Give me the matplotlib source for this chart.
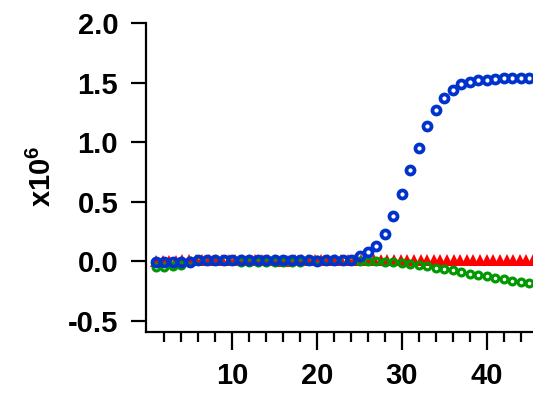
import numpy as np
import matplotlib
matplotlib.use('Agg')
import matplotlib.pyplot as plt
from matplotlib.ticker import FixedLocator

# data (y in units of 1e6)
blueX = list(range(1, 46))
blueY = [-0.01, -0.01, -0.01, -0.01, -0.005, 0.01, 0.01, 0.01, 0.01, 0.01,
         0.01, 0.01, 0.01, 0.01, 0.01, 0.01, 0.01, 0.01, 0.01, 0.0,
         0.01, 0.01, 0.01, 0.01, 0.04, 0.076, 0.126, 0.227, 0.378, 0.563,
         0.765, 0.95, 1.134, 1.269, 1.37, 1.437, 1.487, 1.504, 1.521, 1.525,
         1.535, 1.538, 1.538, 1.538, 1.538]

greenX = list(range(1, 46))
greenY = [-0.05, -0.05, -0.045, -0.03, 0.0, 0.01, 0.01, 0.01, 0.01, 0.01,
          -0.005, -0.005, -0.005, -0.005, -0.005, -0.005, -0.005, -0.005, 0.01, 0.01,
          0.01, 0.01, 0.01, 0.01, 0.005, 0.0, -0.003, -0.007, -0.011, -0.016,
          -0.024, -0.033, -0.043, -0.054, -0.065, -0.077, -0.091, -0.105, -0.117, -0.129,
          -0.141, -0.152, -0.164, -0.175, -0.186]

redX = [1.0, 1.78, 2.56, 3.34, 4.12, 4.9, 5.68, 6.46, 7.24, 8.02,
        8.8, 9.58, 10.36, 11.14, 11.92, 12.7, 13.48, 14.26, 15.04, 15.82,
        16.6, 17.38, 18.16, 18.94, 19.72, 20.5, 21.28, 22.06, 22.84, 23.62,
        24.4, 25.18, 25.96, 26.74, 27.52, 28.3, 29.08, 29.86, 30.64, 31.42,
        32.2, 32.98, 33.76, 34.54, 35.32, 36.1, 36.88, 37.66, 38.44, 39.22,
        40.0, 40.78, 41.56, 42.34, 43.12, 43.9, 44.68, 45.46]
redY = [0.0, 0.0, 0.0, 0.005, 0.01, 0.01, 0.01, 0.01, 0.01, 0.01,
        0.01, 0.01, 0.01, 0.01, 0.01, 0.01, 0.01, 0.01, 0.01, 0.005,
        0.005, 0.01, 0.01, 0.01, 0.01, 0.01, 0.01, 0.01, 0.01, 0.01,
        0.013, 0.013, 0.013, 0.013, 0.013, 0.013, 0.013, 0.013, 0.013, 0.013,
        0.013, 0.013, 0.013, 0.013, 0.013, 0.013, 0.013, 0.013, 0.013, 0.013,
        0.013, 0.013, 0.013, 0.013, 0.013, 0.013, 0.013, 0.013]

yTicks = [-0.5, 0.0, 0.5, 1.0, 1.5, 2.0]
yTickLabels = ['-0.5', '0.0', '0.5', '1.0', '1.5', '2.0']
xTicks = [10, 20, 30, 40]
xMinorTicks = [2, 4, 6, 8, 12, 14, 16, 18, 22, 24, 26, 28, 32, 34, 36, 38, 42, 44]


def main():
    plt.rcParams['font.family'] = ['Liberation Sans', 'DejaVu Sans']
    plt.rcParams['font.weight'] = 'bold'
    plt.rcParams['mathtext.fontset'] = 'custom'
    plt.rcParams['mathtext.bf'] = 'Liberation Sans:bold'
    plt.rcParams['mathtext.rm'] = 'Liberation Sans:bold'
    plt.rcParams['mathtext.default'] = 'bf'

    fig = plt.figure(figsize=(5.33, 3.95), dpi=100)
    ax = fig.add_axes([146 / 533, 1 - 331.5 / 395, 1 - 146 / 533, (331.5 - 23.3) / 395])

    ax.plot(redX, redY, linestyle='none', marker='^', markersize=8.2,
            color='#ff0000', markeredgewidth=0, zorder=3)
    ax.plot(greenX, greenY, linestyle='none', marker='o', markersize=4.9,
            markerfacecolor='none', markeredgecolor='#009a00', markeredgewidth=2.3, zorder=4)
    ax.plot(blueX, blueY, linestyle='none', marker='o', markersize=5.8,
            markerfacecolor='none', markeredgecolor='#0033cc', markeredgewidth=2.7, zorder=5)

    ax.set_xlim(-0.18, 45.46)
    ax.set_ylim(-0.592, 2.0)

    ax.spines['top'].set_visible(False)
    ax.spines['right'].set_visible(False)
    ax.spines['left'].set_linewidth(1.6)
    ax.spines['bottom'].set_linewidth(1.6)

    ax.set_yticks(yTicks)
    ax.set_yticklabels(yTickLabels)
    ax.set_xticks(xTicks)
    ax.xaxis.set_minor_locator(FixedLocator(xMinorTicks))

    ax.tick_params(axis='y', which='major', length=11, width=1.6, pad=9, labelsize=21)
    ax.tick_params(axis='x', which='major', length=13, width=1.6, pad=9, labelsize=21)
    ax.tick_params(axis='x', which='minor', length=7.5, width=1.6)
    for lbl in ax.get_xticklabels() + ax.get_yticklabels():
        lbl.set_fontweight('bold')

    fig.text(42 / 533, 1 - 176 / 395, 'x10$^{6}$', rotation=90, ha='center', va='center',
             fontsize=21, fontweight='bold')

    plt.savefig('out.png', dpi=100)


if __name__ == '__main__':
    main()
